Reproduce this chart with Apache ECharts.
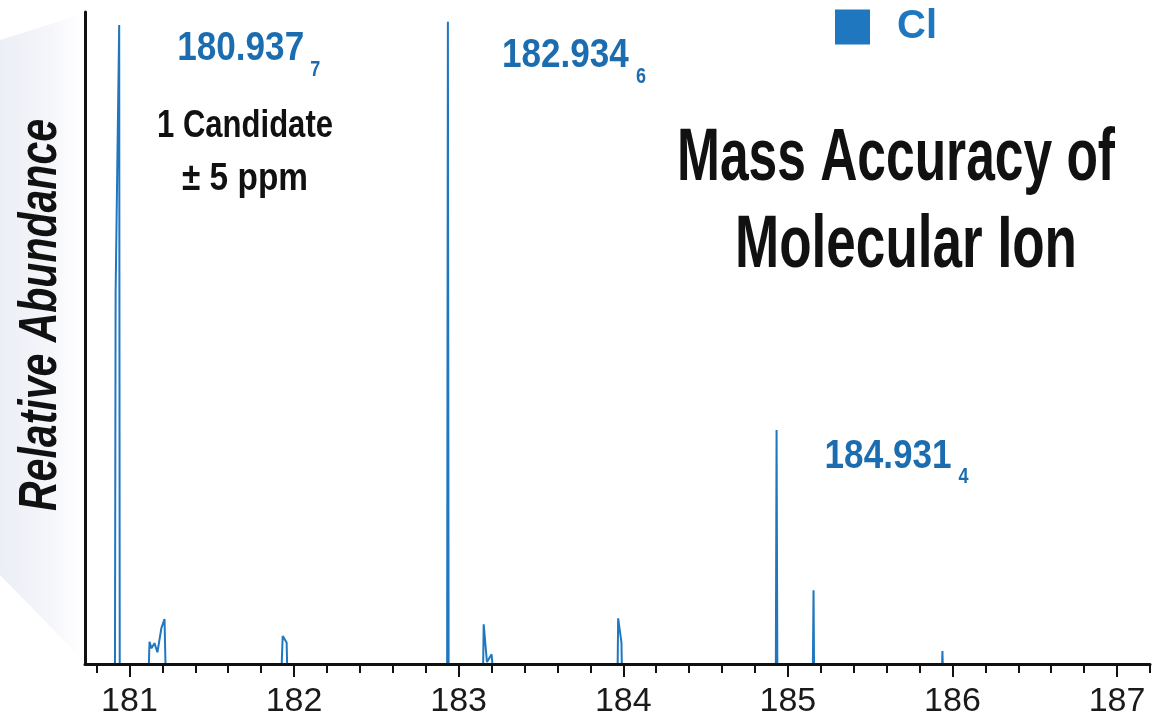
<!DOCTYPE html>
<html>
<head>
<meta charset="utf-8">
<script src="https://cdn.jsdelivr.net/npm/echarts@6/dist/echarts.min.js"></script>
<style>
  html, body { margin: 0; padding: 0; background: #ffffff; }
  #chart { width: 1163px; height: 719px; }
</style>
</head>
<body>
<div id="chart"></div>
<script>
// Profile spectrum: m/z and relative abundance (%)
const mzProfile = [
  180.840, 180.912, 180.916, 180.9377, 180.941,
  181.118, 181.122, 181.134, 181.152, 181.170, 181.194, 181.213, 181.219,
  181.925, 181.931, 181.955, 181.958,
  182.930, 182.9346, 182.939,
  183.149, 183.152, 183.172, 183.200, 183.205,
  183.966, 183.969, 183.989, 183.991,
  184.927, 184.9314, 184.936,
  185.152, 185.156, 185.159,
  185.937, 185.939, 185.941,
  186.930
];
const abundance = [
  0, 0, 57, 98, 0,
  0, 3.4, 2.4, 3.2, 1.8, 5.5, 6.9, 0,
  0, 4.3, 3.3, 0,
  0, 98.5, 0,
  0, 6.1, 0.3, 1.5, 0,
  0, 7.0, 3.3, 0,
  0, 35.9, 0,
  0, 11.3, 0,
  0, 2.0, 0,
  0
];

// Labelled isotope peaks
const peakMz = [180.9377, 182.9346, 184.9314];
const peakAbundance = [98, 98.5, 35.9];

// Axis ticks
const majorTicks = [181, 182, 183, 184, 185, 186, 187];
const minorTicks = [
  180.8, 181.0, 181.2, 181.4, 181.6, 181.8, 182.0, 182.2, 182.4, 182.6, 182.8,
  183.0, 183.2, 183.4, 183.6, 183.8, 184.0, 184.2, 184.4, 184.6, 184.8,
  185.0, 185.2, 185.4, 185.6, 185.8, 186.0, 186.2, 186.4, 186.6, 186.8,
  187.0, 187.2
];

// Text
const seriesName = 'Cl';
const yTitle = 'Relative Abundance';
const titleLines = ['Mass Accuracy of', 'Molecular Ion'];
const noteLines = ['1 Candidate', '\u00B1 5 ppm'];

const BLUE = '#1f77c0';
const LABEL_BLUE = '#1c6db0';
const INK = '#111111';
const FONT = "'Liberation Sans Narrow', 'Liberation Sans', Arial, sans-serif";

const chart = echarts.init(document.getElementById('chart'), null, { renderer: 'canvas' });

const profileData = mzProfile.map((m, i) => [m, abundance[i]]);

chart.setOption({
  animation: false,
  backgroundColor: '#ffffff',
  grid: { left: 85, right: 13, top: 12, bottom: 55 },
  legend: {
    data: [seriesName],
    left: 835,
    top: 7,
    padding: 0,
    icon: 'rect',
    itemWidth: 35,
    itemHeight: 35,
    selectedMode: false,
    textStyle: {
      fontSize: 40,
      fontWeight: 'bold',
      color: BLUE,
      fontFamily: FONT,
      padding: [0, 0, 0, 22]
    }
  },
  xAxis: [
    {
      type: 'value',
      min: 180.73,
      max: 187.2,
      position: 'bottom',
      z: 3,
      axisLine: { show: true, lineStyle: { color: INK, width: 3 } },
      axisTick: { show: true, customValues: minorTicks, length: 9, lineStyle: { color: INK, width: 2 } },
      axisLabel: { show: true, customValues: majorTicks, fontSize: 34, color: '#1a1a1a', fontFamily: FONT, margin: 21 },
      splitLine: { show: false }
    },
    {
      type: 'value',
      min: 180.73,
      max: 187.2,
      position: 'bottom',
      z: 3,
      axisLine: { show: false },
      axisTick: { show: true, customValues: majorTicks, length: 13, lineStyle: { color: INK, width: 2 } },
      axisLabel: { show: false },
      splitLine: { show: false }
    }
  ],
  yAxis: {
    type: 'value',
    min: 0,
    max: 100,
    axisLine: { show: true, lineStyle: { color: INK, width: 3 } },
    axisTick: { show: false },
    axisLabel: { show: false },
    splitLine: { show: false }
  },
  series: [
    {
      name: seriesName,
      type: 'line',
      xAxisIndex: 0,
      data: profileData,
      symbol: 'none',
      z: 2,
      itemStyle: { color: BLUE },
      lineStyle: { color: BLUE, width: 2 }
    }
  ]
});

// Horizontal squeeze so a text run spans a given width (condensed look)
const measureCtx = document.createElement('canvas').getContext('2d');
function squeeze(text, size, weight, style, width) {
  measureCtx.font = `${style} ${weight} ${size}px ${FONT}`;
  return width / measureCtx.measureText(text).width;
}
function textEl(text, x, y, size, width, o) {
  const weight = o.weight || 'bold';
  const style = o.style || 'normal';
  return {
    type: 'text',
    x: x,
    y: y,
    rotation: o.rotation || 0,
    scaleX: squeeze(text, size, weight, style, width),
    z: 10,
    style: {
      text: text,
      fontSize: size,
      fontWeight: weight,
      fontStyle: style,
      fontFamily: FONT,
      fill: o.fill || INK,
      align: o.align || 'center',
      verticalAlign: 'middle'
    }
  };
}

// Peak annotations: m/z to three decimals with the fourth digit as subscript
const labelOffsets = [
  { dx: 58, dy: 24, sdx: 191, sdy: 45 },
  { dx: 54, dy: 34, sdx: 188, sdy: 55 },
  { dx: 48, dy: 27, sdx: 182, sdy: 47 }
];
const peakLabels = [];
peakMz.forEach((m, i) => {
  const p = chart.convertToPixel({ seriesIndex: 0 }, [m, peakAbundance[i]]);
  const s = m.toFixed(4);
  const main = s.slice(0, -1);
  const sub = s.slice(-1);
  const off = labelOffsets[i];
  peakLabels.push(textEl(main, p[0] + off.dx, p[1] + off.dy, 40, 127, { align: 'left', fill: LABEL_BLUE }));
  peakLabels.push(textEl(sub, p[0] + off.sdx, p[1] + off.sdy, 22, 10, { align: 'left', fill: LABEL_BLUE }));
});

chart.setOption({
  graphic: [
    {
      type: 'polygon',
      z: -1,
      silent: true,
      shape: { points: [[0, 40], [83, 14], [83, 660], [0, 575]] },
      style: {
        fill: {
          type: 'linear', x: 0, y: 0, x2: 1, y2: 0,
          colorStops: [
            { offset: 0, color: '#eceef6' },
            { offset: 0.6, color: '#f5f6fa' },
            { offset: 1, color: '#ffffff' }
          ]
        }
      }
    },
    textEl(yTitle, 41.5, 315, 54, 392, { rotation: Math.PI / 2, style: 'italic' }),
    textEl(titleLines[0], 896, 160, 74, 438, {}),
    textEl(titleLines[1], 906, 246, 75, 342, {}),
    textEl(noteLines[0], 245, 126, 39, 176, {}),
    textEl(noteLines[1], 245, 179, 39, 126, {})
  ].concat(peakLabels)
});
</script>
</body>
</html>
